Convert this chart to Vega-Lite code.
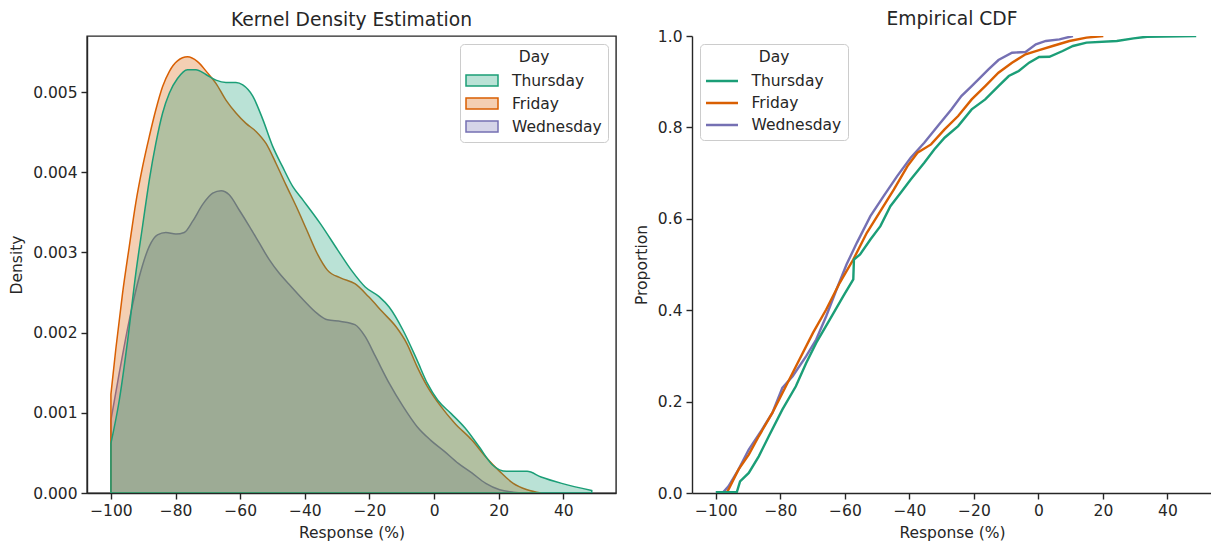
{
  "$schema": "https://vega.github.io/schema/vega-lite/v6.json",
  "padding": {"left": 8, "top": 10, "right": 0, "bottom": 0},
  "background": "white",
  "spacing": 17,
  "config": {
    "font": "DejaVu Sans",
    "view": {"stroke": null},
    "axis": {"labelFont": "DejaVu Sans", "titleFont": "DejaVu Sans", "labelColor": "#262626", "titleColor": "#262626", "tickColor": "#262626", "domainColor": "#262626", "tickSize": 6, "tickWidth": 1.4, "domainWidth": 1.4, "labelFontSize": 15.5, "titleFontSize": 15.5, "titleFontWeight": "normal", "grid": false, "labelPadding": 4, "titlePadding": 8},
    "axisX": {"titlePadding": 7},
    "title": {"font": "DejaVu Sans", "fontSize": 18.7, "fontWeight": "normal", "color": "#262626"},
    "legend": {"labelFont": "DejaVu Sans", "titleFont": "DejaVu Sans", "labelFontSize": 15.5, "titleFontSize": 15.5, "titleFontWeight": "normal", "labelColor": "#262626", "titleColor": "#262626", "strokeColor": "#cccccc", "fillColor": "rgba(255,255,255,0.8)", "cornerRadius": 4, "padding": 6, "titleAnchor": "middle", "titlePadding": 6, "offset": 8}
  },
  "datasets": {
    "kde": [
      {"Day":"Wednesday","x":-100,"d":0.00091},{"Day":"Wednesday","x":-97.4,"d":0.0015},{"Day":"Wednesday","x":-94.3,"d":0.00216},{"Day":"Wednesday","x":-91.2,"d":0.0027},{"Day":"Wednesday","x":-88.1,"d":0.00308},{"Day":"Wednesday","x":-85.6,"d":0.00322},{"Day":"Wednesday","x":-83,"d":0.00325},{"Day":"Wednesday","x":-79.9,"d":0.00323},{"Day":"Wednesday","x":-77.3,"d":0.00325},{"Day":"Wednesday","x":-74.7,"d":0.00339},{"Day":"Wednesday","x":-71.6,"d":0.0036},{"Day":"Wednesday","x":-68.5,"d":0.00374},{"Day":"Wednesday","x":-65.9,"d":0.00377},{"Day":"Wednesday","x":-63.4,"d":0.00372},{"Day":"Wednesday","x":-60.3,"d":0.00353},{"Day":"Wednesday","x":-57.2,"d":0.00333},{"Day":"Wednesday","x":-54.1,"d":0.00312},{"Day":"Wednesday","x":-51,"d":0.00291},{"Day":"Wednesday","x":-47.9,"d":0.00274},{"Day":"Wednesday","x":-44.8,"d":0.0026},{"Day":"Wednesday","x":-40.5,"d":0.00241},{"Day":"Wednesday","x":-36.2,"d":0.00224},{"Day":"Wednesday","x":-33,"d":0.00216},{"Day":"Wednesday","x":-28.8,"d":0.00214},{"Day":"Wednesday","x":-24.5,"d":0.0021},{"Day":"Wednesday","x":-21.3,"d":0.00195},{"Day":"Wednesday","x":-18.1,"d":0.0017},{"Day":"Wednesday","x":-13.9,"d":0.00137},{"Day":"Wednesday","x":-9.6,"d":0.00108},{"Day":"Wednesday","x":-5.3,"d":0.00083},{"Day":"Wednesday","x":-1.1,"d":0.00066},{"Day":"Wednesday","x":3.2,"d":0.00052},{"Day":"Wednesday","x":7.5,"d":0.00037},{"Day":"Wednesday","x":11.7,"d":0.00025},{"Day":"Wednesday","x":16,"d":0.00012},{"Day":"Wednesday","x":20.3,"d":0.00004},{"Day":"Wednesday","x":24.5,"d":0.00001},{"Day":"Wednesday","x":28.8,"d":0.0},
      {"Day":"Friday","x":-100,"d":0.00123},{"Day":"Friday","x":-98.5,"d":0.00179},{"Day":"Friday","x":-96.4,"d":0.00249},{"Day":"Friday","x":-94.3,"d":0.00308},{"Day":"Friday","x":-92.3,"d":0.00362},{"Day":"Friday","x":-90.2,"d":0.00407},{"Day":"Friday","x":-88.1,"d":0.00445},{"Day":"Friday","x":-86.1,"d":0.00478},{"Day":"Friday","x":-84,"d":0.00507},{"Day":"Friday","x":-81.9,"d":0.00526},{"Day":"Friday","x":-79.4,"d":0.00539},{"Day":"Friday","x":-76.3,"d":0.00544},{"Day":"Friday","x":-73.2,"d":0.00538},{"Day":"Friday","x":-70.1,"d":0.00524},{"Day":"Friday","x":-67.5,"d":0.00511},{"Day":"Friday","x":-64.4,"d":0.0049},{"Day":"Friday","x":-61.3,"d":0.00474},{"Day":"Friday","x":-58.2,"d":0.00461},{"Day":"Friday","x":-55.1,"d":0.00451},{"Day":"Friday","x":-52,"d":0.00436},{"Day":"Friday","x":-48.9,"d":0.00411},{"Day":"Friday","x":-45.8,"d":0.00384},{"Day":"Friday","x":-42.6,"d":0.00357},{"Day":"Friday","x":-39.4,"d":0.00328},{"Day":"Friday","x":-36.2,"d":0.00299},{"Day":"Friday","x":-33,"d":0.00278},{"Day":"Friday","x":-28.8,"d":0.00268},{"Day":"Friday","x":-24.5,"d":0.00261},{"Day":"Friday","x":-20.3,"d":0.00245},{"Day":"Friday","x":-16,"d":0.00226},{"Day":"Friday","x":-11.7,"d":0.00207},{"Day":"Friday","x":-8.5,"d":0.00187},{"Day":"Friday","x":-5.3,"d":0.00158},{"Day":"Friday","x":-2.1,"d":0.00133},{"Day":"Friday","x":2.1,"d":0.00108},{"Day":"Friday","x":6.4,"d":0.00087},{"Day":"Friday","x":11.7,"d":0.00066},{"Day":"Friday","x":16,"d":0.00045},{"Day":"Friday","x":20.3,"d":0.00027},{"Day":"Friday","x":24.5,"d":0.00012},{"Day":"Friday","x":28.8,"d":0.00004},{"Day":"Friday","x":33.1,"d":0.0},
      {"Day":"Thursday","x":-100,"d":0.00062},{"Day":"Thursday","x":-97.4,"d":0.00116},{"Day":"Thursday","x":-94.8,"d":0.00191},{"Day":"Thursday","x":-92.3,"d":0.00274},{"Day":"Thursday","x":-90.2,"d":0.00333},{"Day":"Thursday","x":-88.1,"d":0.00391},{"Day":"Thursday","x":-86.1,"d":0.00436},{"Day":"Thursday","x":-84,"d":0.00474},{"Day":"Thursday","x":-81.9,"d":0.00499},{"Day":"Thursday","x":-79.4,"d":0.00517},{"Day":"Thursday","x":-76.3,"d":0.00528},{"Day":"Thursday","x":-73.7,"d":0.00528},{"Day":"Thursday","x":-70.6,"d":0.00522},{"Day":"Thursday","x":-67.5,"d":0.00515},{"Day":"Thursday","x":-64.4,"d":0.00512},{"Day":"Thursday","x":-61.3,"d":0.00512},{"Day":"Thursday","x":-59.2,"d":0.00509},{"Day":"Thursday","x":-56.1,"d":0.00495},{"Day":"Thursday","x":-53,"d":0.00466},{"Day":"Thursday","x":-49.9,"d":0.00432},{"Day":"Thursday","x":-46.9,"d":0.00407},{"Day":"Thursday","x":-43.7,"d":0.00382},{"Day":"Thursday","x":-40.5,"d":0.00365},{"Day":"Thursday","x":-35.2,"d":0.00336},{"Day":"Thursday","x":-29.8,"d":0.00303},{"Day":"Thursday","x":-25.6,"d":0.00278},{"Day":"Thursday","x":-21.3,"d":0.00257},{"Day":"Thursday","x":-17,"d":0.00245},{"Day":"Thursday","x":-13.9,"d":0.00232},{"Day":"Thursday","x":-9.6,"d":0.00203},{"Day":"Thursday","x":-5.3,"d":0.00166},{"Day":"Thursday","x":-2.1,"d":0.00137},{"Day":"Thursday","x":1.1,"d":0.00116},{"Day":"Thursday","x":5.3,"d":0.00099},{"Day":"Thursday","x":9.6,"d":0.00081},{"Day":"Thursday","x":13.9,"d":0.00058},{"Day":"Thursday","x":18.1,"d":0.00035},{"Day":"Thursday","x":22.4,"d":0.00027},{"Day":"Thursday","x":28.8,"d":0.00027},{"Day":"Thursday","x":33.1,"d":0.0002},{"Day":"Thursday","x":39.5,"d":0.00012},{"Day":"Thursday","x":48.8,"d":0.00003}
    ],
    "ecdf": [
      {"Day":"Wednesday","x":-100,"p":0.0015},{"Day":"Wednesday","x":-97.7,"p":0.002},{"Day":"Wednesday","x":-96.1,"p":0.0146},{"Day":"Wednesday","x":-93,"p":0.0511},{"Day":"Wednesday","x":-89.8,"p":0.0949},{"Day":"Wednesday","x":-85.7,"p":0.1387},{"Day":"Wednesday","x":-82.5,"p":0.1752},{"Day":"Wednesday","x":-79.4,"p":0.2299},{"Day":"Wednesday","x":-76.2,"p":0.2555},{"Day":"Wednesday","x":-72,"p":0.2993},{"Day":"Wednesday","x":-68.9,"p":0.3358},{"Day":"Wednesday","x":-65.8,"p":0.3869},{"Day":"Wednesday","x":-62.6,"p":0.4453},{"Day":"Wednesday","x":-59.5,"p":0.5},{"Day":"Wednesday","x":-56.3,"p":0.5474},{"Day":"Wednesday","x":-52.1,"p":0.6058},{"Day":"Wednesday","x":-48,"p":0.6496},{"Day":"Wednesday","x":-43.8,"p":0.6934},{"Day":"Wednesday","x":-39.6,"p":0.7336},{"Day":"Wednesday","x":-35.4,"p":0.7664},{"Day":"Wednesday","x":-31.2,"p":0.8029},{"Day":"Wednesday","x":-27,"p":0.8394},{"Day":"Wednesday","x":-23.9,"p":0.8686},{"Day":"Wednesday","x":-20.7,"p":0.8905},{"Day":"Wednesday","x":-18.6,"p":0.9051},{"Day":"Wednesday","x":-15.5,"p":0.927},{"Day":"Wednesday","x":-12.4,"p":0.9474},{"Day":"Wednesday","x":-8.2,"p":0.9635},{"Day":"Wednesday","x":-4,"p":0.965},{"Day":"Wednesday","x":-0.8,"p":0.9818},{"Day":"Wednesday","x":2.3,"p":0.9891},{"Day":"Wednesday","x":6.5,"p":0.9927},{"Day":"Wednesday","x":10.7,"p":1.0},
      {"Day":"Friday","x":-96.6,"p":0.0015},{"Day":"Friday","x":-96.1,"p":0.0073},{"Day":"Friday","x":-93,"p":0.0511},{"Day":"Friday","x":-89.8,"p":0.0839},{"Day":"Friday","x":-86.7,"p":0.1241},{"Day":"Friday","x":-82.5,"p":0.1752},{"Day":"Friday","x":-78.3,"p":0.2336},{"Day":"Friday","x":-74.1,"p":0.292},{"Day":"Friday","x":-69.9,"p":0.3504},{"Day":"Friday","x":-65.8,"p":0.4015},{"Day":"Friday","x":-61.6,"p":0.4599},{"Day":"Friday","x":-57.4,"p":0.5109},{"Day":"Friday","x":-53.2,"p":0.5693},{"Day":"Friday","x":-49,"p":0.6168},{"Day":"Friday","x":-44.8,"p":0.6642},{"Day":"Friday","x":-40.6,"p":0.7153},{"Day":"Friday","x":-37.5,"p":0.7445},{"Day":"Friday","x":-33.3,"p":0.7628},{"Day":"Friday","x":-29.1,"p":0.7956},{"Day":"Friday","x":-24.9,"p":0.8248},{"Day":"Friday","x":-20.7,"p":0.8613},{"Day":"Friday","x":-16.5,"p":0.8905},{"Day":"Friday","x":-12.4,"p":0.9197},{"Day":"Friday","x":-8.2,"p":0.9416},{"Day":"Friday","x":-4,"p":0.9599},{"Day":"Friday","x":0.2,"p":0.9693},{"Day":"Friday","x":4.4,"p":0.9781},{"Day":"Friday","x":9.6,"p":0.9891},{"Day":"Friday","x":14.9,"p":0.9964},{"Day":"Friday","x":20.1,"p":1.0},
      {"Day":"Thursday","x":-100,"p":0.0015},{"Day":"Thursday","x":-93.5,"p":0.002},{"Day":"Thursday","x":-92.5,"p":0.0255},{"Day":"Thursday","x":-89.8,"p":0.0438},{"Day":"Thursday","x":-86.7,"p":0.0803},{"Day":"Thursday","x":-83.6,"p":0.1241},{"Day":"Thursday","x":-79.4,"p":0.1825},{"Day":"Thursday","x":-75.2,"p":0.2336},{"Day":"Thursday","x":-72,"p":0.2847},{"Day":"Thursday","x":-68.9,"p":0.3285},{"Day":"Thursday","x":-64.7,"p":0.3796},{"Day":"Thursday","x":-60.5,"p":0.4307},{"Day":"Thursday","x":-57.4,"p":0.4672},{"Day":"Thursday","x":-57.2,"p":0.5109},{"Day":"Thursday","x":-55.3,"p":0.5219},{"Day":"Thursday","x":-52.1,"p":0.5547},{"Day":"Thursday","x":-49,"p":0.5839},{"Day":"Thursday","x":-45.9,"p":0.6277},{"Day":"Thursday","x":-42.7,"p":0.6569},{"Day":"Thursday","x":-39.6,"p":0.6861},{"Day":"Thursday","x":-35.4,"p":0.7226},{"Day":"Thursday","x":-32.3,"p":0.7518},{"Day":"Thursday","x":-29.1,"p":0.7774},{"Day":"Thursday","x":-24.9,"p":0.8029},{"Day":"Thursday","x":-20.7,"p":0.8394},{"Day":"Thursday","x":-16.5,"p":0.8613},{"Day":"Thursday","x":-12.4,"p":0.8905},{"Day":"Thursday","x":-9.2,"p":0.9124},{"Day":"Thursday","x":-6.1,"p":0.9234},{"Day":"Thursday","x":-2.9,"p":0.9416},{"Day":"Thursday","x":0.2,"p":0.954},{"Day":"Thursday","x":3.4,"p":0.9545},{"Day":"Thursday","x":7.5,"p":0.9672},{"Day":"Thursday","x":10.7,"p":0.9781},{"Day":"Thursday","x":14.9,"p":0.9854},{"Day":"Thursday","x":24.3,"p":0.9891},{"Day":"Thursday","x":29.5,"p":0.9949},{"Day":"Thursday","x":33.7,"p":0.9985},{"Day":"Thursday","x":48.9,"p":1.0}
    ]
  },
  "resolve": {"legend": {"color": "independent"}},
  "hconcat": [
    {
      "title": {"text": "Kernel Density Estimation", "offset": 6},
      "width": 529,
      "height": 457,
      "view": {"stroke": "#262626", "strokeWidth": 1.4},
      "data": {"name": "kde"},
      "mark": {"type": "area", "interpolate": "monotone", "fillOpacity": 0.3, "strokeWidth": 1.5, "clip": true},
      "encoding": {
        "x": {"field": "x", "type": "quantitative", "title": "Response (%)", "scale": {"domain": [-107.4, 56.3], "nice": false, "zero": false}, "axis": {"values": [-100, -80, -60, -40, -20, 0, 20, 40], "format": "d"}},
        "y": {"field": "d", "type": "quantitative", "stack": null, "title": "Density", "scale": {"domain": [0, 0.0057], "nice": false}, "axis": {"values": [0, 0.001, 0.002, 0.003, 0.004, 0.005], "format": ".3f"}},
        "color": {"field": "Day", "type": "nominal", "scale": {"domain": ["Thursday", "Friday", "Wednesday"], "range": ["#1b9e77", "#d95f02", "#7570b3"]},
          "legend": {"title": "Day", "orient": "top-right", "symbolType": "M-2,-0.7L2,-0.7L2,0.7L-2,0.7Z", "symbolSize": 256, "symbolStrokeWidth": 1.5, "symbolOffset": 7, "labelOffset": 21, "rowPadding": 5,
            "encode": {"symbols": {"update": {"fill": {"scale": "color", "field": "value"}, "fillOpacity": {"value": 0.3}, "stroke": {"scale": "color", "field": "value"}, "strokeWidth": {"value": 1.5}, "opacity": {"value": 1}}}}}},
        "stroke": {"field": "Day", "type": "nominal", "scale": {"domain": ["Thursday", "Friday", "Wednesday"], "range": ["#1b9e77", "#d95f02", "#7570b3"]}, "legend": null}
      }
    },
    {
      "title": {"text": "Empirical CDF", "offset": 0},
      "width": 520,
      "height": 457,
      "view": {"stroke": null},
      "data": {"name": "ecdf"},
      "mark": {"type": "line", "strokeWidth": 2.4, "clip": true},
      "encoding": {
        "x": {"field": "x", "type": "quantitative", "title": "Response (%)", "scale": {"domain": [-107.4, 53.8], "nice": false, "zero": false}, "axis": {"values": [-100, -80, -60, -40, -20, 0, 20, 40], "format": "d"}},
        "y": {"field": "p", "type": "quantitative", "title": "Proportion", "scale": {"domain": [0, 1], "nice": false}, "axis": {"values": [0, 0.2, 0.4, 0.6, 0.8, 1.0], "format": ".1f"}},
        "color": {"field": "Day", "type": "nominal", "scale": {"domain": ["Thursday", "Friday", "Wednesday"], "range": ["#1b9e77", "#d95f02", "#7570b3"]},
          "legend": {"title": "Day", "orient": "top-left", "symbolType": "M-2,0L2,0", "symbolSize": 256, "symbolStrokeWidth": 2.5, "symbolOffset": 6.5, "labelOffset": 20, "rowPadding": 4}},
        "order": {"field": "p", "type": "quantitative"}
      }
    }
  ]
}
